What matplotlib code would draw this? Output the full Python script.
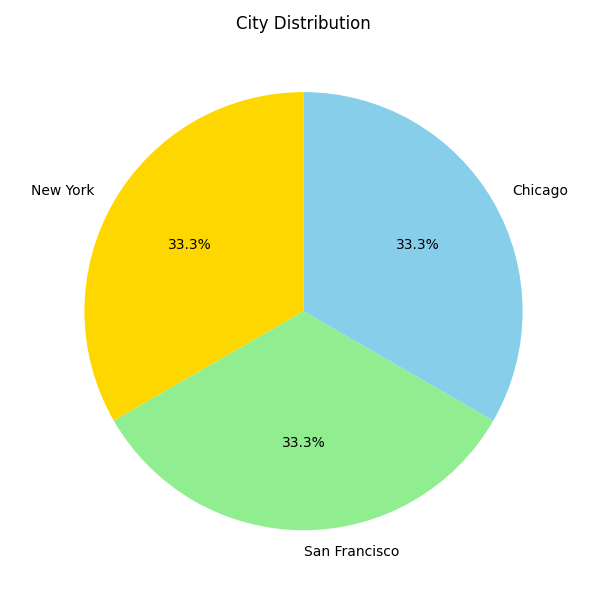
import matplotlib
matplotlib.use("Agg")
import matplotlib.pyplot as plt

# City counts
cities = ["New York", "San Francisco", "Chicago"]
counts = [1, 1, 1]
colors = ["gold", "lightgreen", "skyblue"]

plt.figure(figsize=(6, 6), dpi=100)
plt.pie(counts, labels=cities, colors=colors, autopct="%1.1f%%", startangle=90)
plt.title("City Distribution")
plt.tight_layout()
plt.savefig("out.png")
